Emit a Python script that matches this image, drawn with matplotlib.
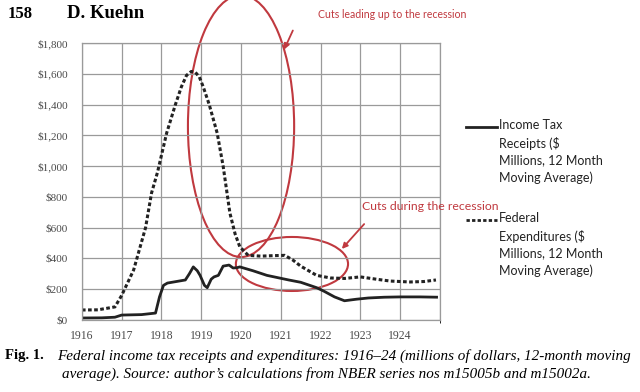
import matplotlib
matplotlib.use("Agg")
import matplotlib.pyplot as plt
from matplotlib.patches import Ellipse

# --- data ---
exp_year = [1916.0, 1916.4, 1916.83, 1917.0, 1917.3, 1917.6, 1917.75, 1917.9, 1918.13,
            1918.35, 1918.5, 1918.63, 1918.75, 1918.85, 1918.95, 1919.05, 1919.2, 1919.4,
            1919.55, 1919.72, 1919.85, 1919.97, 1920.18, 1920.5, 1920.8, 1921.1, 1921.3,
            1921.5, 1921.9, 1922.25, 1922.6, 1923.0, 1923.4, 1923.75, 1924.25, 1924.6, 1924.9]
exp_val = [65, 66, 85, 160, 325, 600, 825, 960, 1215,
           1400, 1515, 1590, 1615, 1610, 1580, 1515, 1400, 1215,
           1000, 695, 560, 475, 420, 415, 418, 420, 390,
           350, 290, 273, 270, 280, 265, 253, 247, 250, 260]

tax_year = [1916.0, 1916.5, 1916.83, 1917.0, 1917.5, 1917.85, 1917.95, 1918.05, 1918.15,
            1918.6, 1918.7, 1918.8, 1918.9, 1918.97, 1919.08, 1919.15, 1919.25, 1919.32,
            1919.43, 1919.55, 1919.7, 1919.8, 1919.9, 1919.97, 1920.3, 1920.65, 1921.2,
            1921.5, 1921.9, 1922.1, 1922.35, 1922.6, 1922.9, 1923.2, 1923.6, 1924.0,
            1924.5, 1924.95]
tax_val = [13, 14, 18, 32, 35, 45, 150, 225, 240,
           260, 300, 345, 320, 290, 225, 210, 265, 280,
           290, 350, 357, 338, 340, 345, 320, 290, 260,
           245, 210, 185, 150, 125, 135, 143, 148, 150,
           150, 148]

year_ticks = list(range(1916, 1925))
val_ticks = list(range(0, 2000, 200))
val_labels = ["$0", "$200", "$400", "$600", "$800", "$1,000", "$1,200", "$1,400", "$1,600", "$1,800"]

RED = "#c0393f"
INK = "#222222"
GRID = "#9a9a9a"
TICK = "#4a4a4a"
SANS = "Lato"
SERIF = "Liberation Serif"

fig = plt.figure(figsize=(6.4, 3.92), dpi=100)
ax = fig.add_axes([0.128, 0.1837, 0.5594, 0.7066])

ax.plot(tax_year, tax_val, color=INK, lw=2.0, solid_capstyle="butt")
ax.plot(exp_year, exp_val, color=INK, lw=2.2, linestyle=(0, (1.2, 0.8)))

ax.set_xlim(1916, 1925)
ax.set_ylim(0, 1800)
ax.set_xticks(year_ticks)
ax.set_xticklabels([str(y) for y in year_ticks], fontsize=8.5, family=SERIF, color=TICK)
ax.set_yticks(val_ticks)
ax.set_yticklabels(val_labels, fontsize=8, family=SERIF, color=TICK)
ax.set_xticks([1925], minor=True)
ax.grid(True, which="both", color=GRID, lw=0.9)
ax.tick_params(axis="x", length=0, pad=7)
ax.tick_params(axis="y", length=0, pad=10)
for s in ax.spines.values():
    s.set_color(GRID)
    s.set_linewidth(0.9)

# red ellipses
ax.add_patch(Ellipse((1920.0, 1260), 2.67, 1702, fill=False, edgecolor=RED, lw=1.5, clip_on=False))
ax.add_patch(Ellipse((1921.28, 364), 2.82, 351, fill=False, edgecolor=RED, lw=1.5, clip_on=False))

# annotations
fig.text(318 / 640, 1 - 14 / 392, "Cuts leading up to the recession", color=RED, fontsize=7.6,
         family=SANS, va="center", ha="left")
ax.annotate("", xy=(283, 392 - 52), xycoords="figure pixels",
            xytext=(294, 392 - 28), textcoords="figure pixels",
            arrowprops=dict(arrowstyle="-|>", color=RED, lw=1.3, mutation_scale=8))
fig.text(362 / 640, 1 - 207 / 392, "Cuts during the recession", color=RED, fontsize=8.8,
         family=SANS, va="center", ha="left")
ax.annotate("", xy=(340, 392 - 251), xycoords="figure pixels",
            xytext=(366, 392 - 222), textcoords="figure pixels",
            arrowprops=dict(arrowstyle="-|>", color=RED, lw=1.3, mutation_scale=8))

# legend drawn by hand, like the original
fig.add_artist(plt.Line2D([466 / 640, 497 / 640], [1 - 127 / 392] * 2, color=INK, lw=2.0))
fig.text(499 / 640, 1 - 119 / 392,
         "Income Tax\nReceipts ($\nMillions, 12 Month\nMoving Average)",
         fontsize=9, family=SANS, color=INK, va="top", ha="left", linespacing=1.5)
fig.add_artist(plt.Line2D([466 / 640, 497 / 640], [1 - 220 / 392] * 2, color=INK, lw=2.0,
                          linestyle=(0, (1.2, 0.8))))
fig.text(499 / 640, 1 - 212 / 392,
         "Federal\nExpenditures ($\nMillions, 12 Month\nMoving Average)",
         fontsize=9, family=SANS, color=INK, va="top", ha="left", linespacing=1.5)

# page header
fig.text(8 / 640, 1 - 14 / 392, "158", fontsize=12, family=SERIF, weight="bold",
         va="center", ha="left")
fig.text(67 / 640, 1 - 14 / 392, "D. Kuehn", fontsize=13.5, family=SERIF,
         weight="bold", va="center", ha="left")

# caption
fig.text(5 / 640, 1 - 356 / 392, "Fig. 1.", fontsize=10.5, family=SERIF,
         weight="bold", va="center", ha="left")
fig.text(57 / 640, 1 - 356 / 392,
         "Federal income tax receipts and expenditures: 1916\u201324 (millions of dollars, 12-month moving",
         fontsize=10.9, family=SERIF, style="italic", va="center", ha="left")
fig.text(326 / 640, 1 - 374 / 392,
         "average). Source: author\u2019s calculations from NBER series nos m15005b and m15002a.",
         fontsize=10.9, family=SERIF, style="italic", va="center", ha="center")

fig.savefig("out.png", dpi=100)
